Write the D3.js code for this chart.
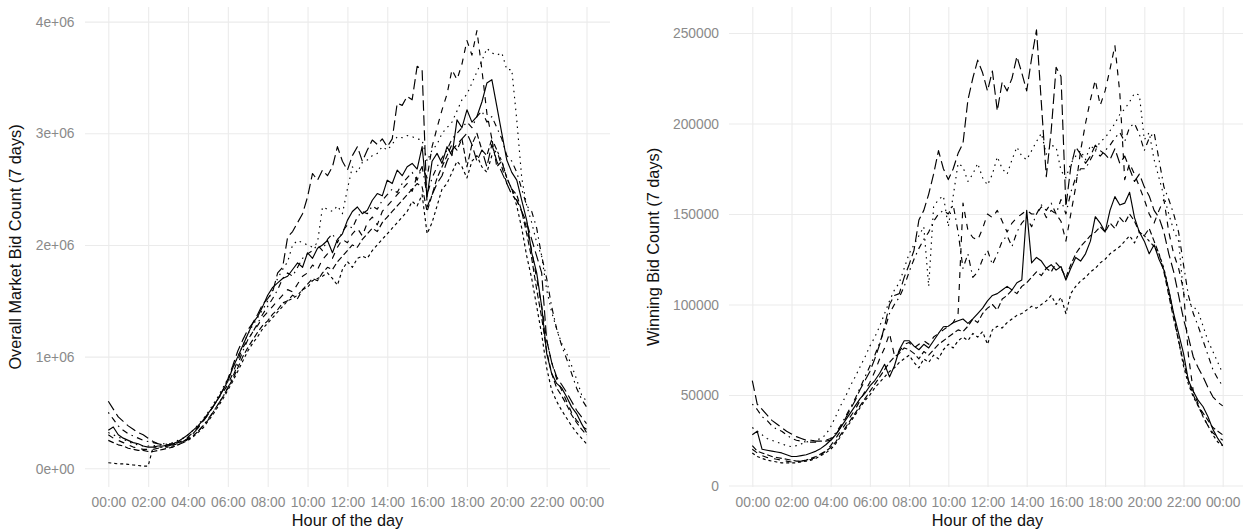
<!DOCTYPE html>
<html>
<head>
<meta charset="utf-8">
<script src="https://cdn.jsdelivr.net/npm/d3@7"></script>
<style>
  body { margin: 0; background: #fff; }
  svg text { font-family: "Liberation Sans", Arial, Helvetica, sans-serif; }
</style>
</head>
<body>
<svg id="chart" width="1243" height="531"></svg>
<script>
// Quarter-hour sample times across the day (hours, 0 .. 24)
const sampleHours = d3.range(0, 97).map(i => i / 4);

const hourTicks = [0, 2, 4, 6, 8, 10, 12, 14, 16, 18, 20, 22, 24];
const hourLabels = ["00:00", "02:00", "04:00", "06:00", "08:00", "10:00", "12:00",
                    "14:00", "16:00", "18:00", "20:00", "22:00", "00:00"];

const marketTicks = [0, 1e6, 2e6, 3e6, 4e6];
const marketTickLabels = ["0e+00", "1e+06", "2e+06", "3e+06", "4e+06"];
const winningTicks = [0, 50000, 100000, 150000, 200000, 250000];
const winningTickLabels = ["0", "50000", "100000", "150000", "200000", "250000"];

const days = ["Mon", "Tue", "Wed", "Thu", "Fri", "Sat", "Sun"];

// Overall market bid counts, thousands of bids per quarter hour
const marketMon = [340,370,300,270, 250,230,220,200, 190,190,200,200, 210,220,240,270,
  300,340,380,430, 490,550,620,700, 780,900,1000,1100, 1200,1300,1360,1450,
  1550,1620,1660,1700, 1720,1780,1840,1800, 1930,1880,1970,2000, 2040,1930,2050,2100,
  2220,2300,2340,2280, 2310,2400,2460,2440, 2580,2550,2670,2620, 2700,2730,2680,2880,
  2430,2750,2820,2730, 2880,2800,3120,3050, 3210,3100,3150,3280, 3450,3480,3240,3000,
  2760,2650,2580,2400, 2220,1930,1750,1450, 1030,850,760,720, 640,550,490,400, 320];
const marketTue = [50,45,40,40, 35,30,25,20, 20,190,190,190, 190,200,210,230,
  250,280,320,360, 420,480,550,620, 700,780,870,960, 1050,1120,1180,1250,
  1300,1350,1400,1450, 1500,1520,1550,1600, 1620,1680,1700,1720, 1750,1700,1640,1780,
  1850,1800,1880,1900, 1880,1950,2000,2050, 2100,2150,2200,2250, 2300,2390,2350,2450,
  2100,2200,2350,2500, 2550,2650,2750,2700, 2600,2750,2800,2700, 2650,2800,2850,2750,
  2600,2500,2350,2150, 1900,1700,1450,1200, 900,700,600,520, 450,380,320,270, 220];
const marketWed = [250,230,210,200, 180,170,160,160, 150,150,160,170, 180,190,210,230,
  260,290,330,380, 430,500,570,640, 720,800,900,1000, 1080,1150,1220,1280,
  1320,1380,1420,1480, 1500,1550,1520,1600, 1650,1700,1680,1750, 1800,1780,1850,1900,
  1950,2000,1980,2050, 2100,2150,2120,2200, 2250,2300,2350,2400, 2450,2500,2550,2520,
  2300,2450,2600,2700, 2800,2900,2850,2950, 2700,2900,3000,2850, 2800,2950,2700,2750,
  2600,2500,2450,2300, 2100,1880,1600,1350, 1050,850,720,650, 570,480,410,350, 300];
const marketThu = [300,270,250,230, 210,190,180,170, 170,170,180,190, 200,210,230,250,
  280,320,370,420, 480,550,620,680, 750,850,970,1080, 1150,1220,1280,1350,
  1400,1450,1500,1550, 1600,1580,1650,1720, 1750,1820,1780,1870, 1920,1880,1980,2050,
  2020,2100,2150,2080, 2200,2250,2180,2300, 2350,2400,2450,2500, 2550,2480,2620,2700,
  2600,2880,3050,3210, 3350,3570,3480,3620, 3830,3700,3920,3570, 3180,2950,2850,2700,
  2550,2500,2400,2300, 2150,1950,1700,1450, 1150,950,800,700, 600,500,430,380, 350];
const marketFri = [320,300,280,260, 240,220,210,200, 200,200,210,210, 220,230,250,270,
  300,340,390,440, 500,570,640,720, 800,900,1000,1100, 1200,1280,1350,1420,
  1500,1600,1700,1780, 1850,2000,2040,2020, 2000,1980,2020,2340, 2320,2300,2350,2280,
  2500,2700,2650,2740, 2760,2800,2820,2880, 2850,2900,2970,2960, 2980,2970,2950,2940,
  2750,2850,2900,3000, 3050,3100,3200,3300, 3350,3450,3550,3650, 3760,3720,3700,3720,
  3570,3570,3120,2600, 2350,2200,2020,1900, 1600,1400,1250,1120, 1030,920,800,660, 600];
const marketSat = [500,440,380,340, 310,290,270,250, 240,230,220,220, 220,220,230,240,
  260,290,330,380, 440,500,570,640, 720,820,930,1050, 1150,1220,1300,1380,
  1450,1520,1600,1700, 1750,1720,1800,1880, 1920,1950,2000,1950, 2050,2100,2020,2120,
  2180,2150,2250,2300, 2280,2350,2320,2400, 2450,2500,2470,2550, 2600,2650,2580,2700,
  2450,2600,2700,2780, 2850,2950,3000,3050, 3100,3050,3150,3200, 3100,3150,3050,2950,
  2800,2750,2650,2500, 2350,2300,2150,1900, 1700,1450,1250,1100, 980,850,720,620, 550];
const marketSun = [600,530,460,420, 380,350,320,300, 270,240,220,210, 210,210,220,240,
  270,310,360,420, 480,550,620,700, 800,920,1050,1150, 1240,1300,1380,1470,
  1520,1580,1750,1800, 2070,2120,2200,2280, 2430,2640,2580,2670, 2620,2700,2880,2750,
  2670,2800,2880,2750, 2850,2940,2900,2950, 2880,2950,3270,3250, 3330,3300,3600,3570,
  2340,2450,2550,2620, 2750,2850,2900,2950, 3000,2900,2750,2850, 2700,2900,2750,2650,
  2550,2450,2400,2300, 2200,2050,1900,1750, 1150,950,820,750, 680,600,520,460, 400];

// Winning bid counts, thousands of bids per quarter hour
const winningMon = [28,30,20,19.5, 19,18.5,18,17, 16,16,16.5,17, 18,19,20.5,22.5,
  25,28,32,36, 40,44,48,51, 55,58,62,67, 60,66,75,80,
  80,77,75,78, 76,80,84,87.7, 88,90,91,92, 89.6,92,95,98,
  102,105,106,108, 110,108,112,113.5, 152,123,126,124, 120,122,119,121,
  113.5,120,126,124, 128,135,148.5,145, 140,152,159.6,155, 156,162,148,140,
  135,128,133,125, 119,108,95,84, 73,58,52,47, 43.5,38,31,26, 22];
const winningTue = [18,16,15,14, 13.5,13,12.5,12.5, 12.5,12.5,13,13.5, 14,15,16.5,18,
  20,23,27,31, 35,39,43,47, 50,54,57,60, 63,65,68,70,
  72,68,65,70, 68,72,70,75, 78,76,80,82, 80,84,82,85,
  78,86,88,87, 90,92,94,95, 97,99,98,100, 102,105,100,104,
  95,106,110,113, 115,118,120,123, 125,128,130,132, 135,138,134,140,
  138,135,132,128, 120,108,94,80, 66,56,49,44, 38,33,28,24, 22];
const winningWed = [22,19,18,17, 16,15.5,15,14.5, 14,13.5,13.5,14, 15,16,17.5,19,
  21,24,28,32, 36,40,44,48, 52,56,60,64, 68,71,73,76,
  75,73,70,74, 72,75,78,80, 82,84,86,85, 88,92,90,95,
  98,100,97,103, 105,108,106,110, 112,115,118,116, 120,118,123,120,
  115,122,128,132, 135,138,140,143, 140,145,142,148, 145,150,146,140,
  138,142,135,128, 118,105,92,80, 68,58,50,44, 40,36,32,30, 28];
const winningThu = [20,18,16.5,15.5, 15,14.5,14,13.5, 13,13,13.5,14, 14.5,15.5,17,19,
  22,26,30,34, 38,42,47,52, 57,63,70,76, 84,72,74,78,
  79,76,78,80, 78,82,84,86, 88,90,95,156, 141,137,135.6,142,
  150,148,152,146, 140,145,148,150, 152,150,150,154, 148,152,150,146,
  135,150,165,185, 200,213,224,210, 218,230,243,217, 169,178,172,165,
  158,150,145,152, 158,140,128,120, 108,72,52,45, 38,33,29,27, 25];
const winningFri = [32,30,28,26, 25,24,23,22, 21.5,22,23,24, 24.7,25,26,28,
  32.5,38,44,49, 55,60,65.6,71, 77,82,88,95, 102,108,112,120,
  128,133,138,143, 110,154,158,160, 143,160,178,176, 168,172,178,170,
  166,172,181.6,175, 172,180,187,182, 180,185,190,194.6, 183,188,187,174,
  170,178,182,185, 180,188,185,190, 192,196,200,205, 208,212,216.7,215.7,
  191,195,180,170, 160,150,141,135, 106,101,99,96, 88,80,74,68, 62];
const winningSat = [45,42,38,36, 33,31,30,28, 26,25,24.5,24, 24,24,24.5,25,
  26,29,33,38, 43,48,54,60, 66,72,79,86, 95,100,104,110,
  118,125,131,136, 140,146,150,152, 150,155,140,120, 128,115,118,125,
  130,122,128,135, 138,132,140,145, 148,143,150,155, 152,156,150,158,
  150,162,170,175, 175,180,185,182, 185,188,192,195, 190,198,200,194,
  185,192,195,180, 165,158,150,140, 122,105,95,88, 80,72,64,59, 55];
const winningSun = [58,45,42,39, 36,34,32,30, 28.5,27,26,25, 25,24.5,24.5,24.5,
  25,28,32,37, 42,47,53,58, 63,70,78,88, 100,105,106,115,
  122,130,146.7,152, 161,172,185,175, 169,175,183.5,189, 213,225,235,228,
  218,229,207,223, 218,225,237,228, 218,236,251.7,211, 170.6,196,231,226,
  154,176,187,183, 178,182,188,185, 183,180,186,178, 182,175,168,172,
  165,160,152,148, 140,128,118,105, 92,82,71,65, 60,54,49,46, 44];

// One line style per day
const dashStyles = {
  Mon: null,
  Tue: "3,3",
  Wed: "6,3",
  Thu: "6,6",
  Fri: "1.5,4.5",
  Sat: "1.5,4.5,6,4.5",
  Sun: "10.5,4.5"
};

const marketSeries = { Mon: marketMon, Tue: marketTue, Wed: marketWed, Thu: marketThu,
                       Fri: marketFri, Sat: marketSat, Sun: marketSun };
const winningSeries = { Mon: winningMon, Tue: winningTue, Wed: winningWed, Thu: winningThu,
                        Fri: winningFri, Sat: winningSat, Sun: winningSun };

const svg = d3.select("#chart");
const gridColor = "#ebebeb";
const tickColor = "#8a8a8a";

const panelTop = 7, panelBottom = 487;

function drawPanel(cfg) {
  const g = svg.append("g");
  const x = d3.scaleLinear().domain([0, 24]).range(cfg.xRange);
  const y = d3.scaleLinear().domain(cfg.yDomain).range(cfg.yRange);

  // Horizontal grid and y labels
  const yAxis = d3.axisLeft(y)
    .tickValues(cfg.yTicks)
    .tickFormat((d, i) => cfg.yLabels[i])
    .tickSizeInner(-(cfg.panelRight - cfg.panelLeft))
    .tickSizeOuter(0)
    .tickPadding(cfg.yPad);
  const ya = g.append("g").attr("transform", `translate(${cfg.panelLeft},0)`).call(yAxis);
  ya.select(".domain").remove();
  ya.selectAll("line").attr("stroke", gridColor).attr("stroke-width", 1.1);
  ya.selectAll("text").attr("fill", tickColor).style("font-size", "13.8px")
    .attr("dy", "0.34em");

  // Vertical grid and hour labels
  const xAxis = d3.axisBottom(x)
    .tickValues(hourTicks)
    .tickFormat((d, i) => hourLabels[i])
    .tickSizeInner(-(panelBottom - panelTop))
    .tickSizeOuter(0)
    .tickPadding(10.3);
  const xa = g.append("g").attr("transform", `translate(0,${panelBottom})`).call(xAxis);
  xa.select(".domain").remove();
  xa.selectAll("line").attr("stroke", gridColor).attr("stroke-width", 1.1);
  xa.selectAll("text").attr("fill", tickColor).style("font-size", "13.8px");

  // Daily curves
  const line = d3.line()
    .x((d, i) => x(sampleHours[i]))
    .y(d => y(d * 1000));
  days.forEach(day => {
    g.append("path")
      .datum(cfg.series[day])
      .attr("fill", "none")
      .attr("stroke", "#000")
      .attr("stroke-width", 1.15)
      .attr("stroke-linejoin", "round")
      .attr("stroke-dasharray", dashStyles[day])
      .attr("d", line);
  });

  // Axis titles
  g.append("text")
    .attr("x", (cfg.panelLeft + cfg.panelRight) / 2)
    .attr("y", 526)
    .attr("text-anchor", "middle")
    .attr("fill", "#111")
    .style("font-size", "16.3px")
    .text("Hour of the day");

  g.append("text")
    .attr("transform", `translate(${cfg.yTitleX},${(panelTop + panelBottom) / 2}) rotate(-90)`)
    .attr("text-anchor", "middle")
    .attr("fill", "#111")
    .style("font-size", "16.3px")
    .text(cfg.yTitle);
}

drawPanel({
  series: marketSeries,
  xRange: [108.3, 586.5],
  yDomain: [0, 4e6],
  yRange: [468.3, 21.6],
  yTicks: marketTicks,
  yLabels: marketTickLabels,
  panelLeft: 85,
  panelRight: 610,
  yPad: 10.5,
  yTitleX: 21,
  yTitle: "Overall Market Bid Count (7 days)"
});

drawPanel({
  series: winningSeries,
  xRange: [752.3, 1222.7],
  yDomain: [0, 250000],
  yRange: [485.5, 33.0],
  yTicks: winningTicks,
  yLabels: winningTickLabels,
  panelLeft: 729,
  panelRight: 1246,
  yPad: 10,
  yTitleX: 659,
  yTitle: "Winning Bid Count (7 days)"
});
</script>
</body>
</html>
